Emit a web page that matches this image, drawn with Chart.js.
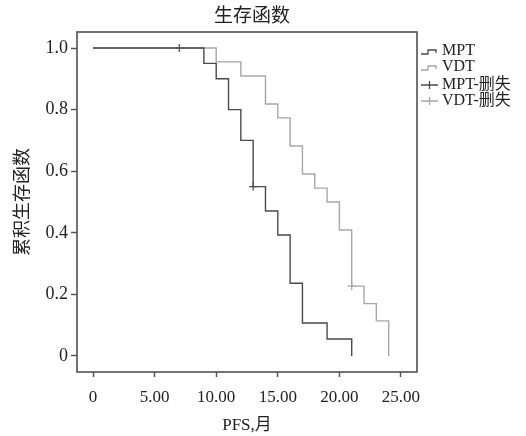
<!DOCTYPE html>
<html>
<head>
<meta charset="utf-8">
<script src="https://cdn.jsdelivr.net/npm/chart.js@4.4.0/dist/chart.umd.min.js"></script>
<style>
html, body { margin: 0; padding: 0; background: #fff; }
</style>
</head>
<body>
<canvas id="km" width="526" height="436"></canvas>
<script>
// 生存函数 data
var mptTime  = [0, 9, 10, 11, 12, 13, 14, 15, 16, 17, 19, 21];
var mptSurv  = [1, 0.95, 0.90, 0.80, 0.70, 0.55, 0.471, 0.393, 0.236, 0.107, 0.055, 0];
var vdtTime  = [0, 10, 12, 14, 15, 16, 17, 18, 19, 20, 21, 22, 23, 24];
var vdtSurv  = [1, 0.955, 0.909, 0.818, 0.773, 0.682, 0.591, 0.545, 0.50, 0.409, 0.227, 0.17, 0.114, 0];
var mptCensorTime = [7, 13];
var mptCensorSurv = [1, 0.55];
var vdtCensorTime = [21];
var vdtCensorSurv = [0.227];
var xTicks = [0, 5, 10, 15, 20, 25];
var yTicks = [0, 0.2, 0.4, 0.6, 0.8, 1.0];
var legendLabels = ['MPT', 'VDT', 'MPT-删失', 'VDT-删失'];

var darkC = '#4a4a4a';
var lightC = '#a6a6a6';
var fam = '"Liberation Serif", "Noto Sans CJK SC", serif';

function pts(t, s) {
    var out = [];
    for (var i = 0; i < t.length; i++) out.push({x: t[i], y: s[i]});
    return out;
}

var framePlugin = {
    id: 'frame',
    beforeDatasetsDraw: function (chart) {
        var a = chart.chartArea, ctx = chart.ctx;
        ctx.save();
        ctx.strokeStyle = '#505050';
        ctx.lineWidth = 1.6;
        ctx.strokeRect(a.left, a.top, a.right - a.left, a.bottom - a.top);
        ctx.restore();
    },
    afterDraw: function (chart) {
        var a = chart.chartArea, ctx = chart.ctx;
        ctx.save();
        // title
        ctx.fillStyle = '#222';
        ctx.font = '19px ' + fam;
        ctx.textAlign = 'center';
        ctx.textBaseline = 'middle';
        ctx.fillText('生存函数', 252, 17);
        // legend
        var colors = [darkC, lightC, darkC, lightC];
        var ys = [51, 67, 85, 101];
        ctx.font = '16px ' + fam;
        ctx.textAlign = 'left';
        for (var i = 0; i < legendLabels.length; i++) {
            var y = ys[i], x0 = a.right + 4;
            ctx.strokeStyle = colors[i];
            ctx.lineWidth = 1.3;
            ctx.beginPath();
            if (i < 2) {
                ctx.moveTo(x0, y + 3);
                ctx.lineTo(x0 + 7, y + 3);
                ctx.lineTo(x0 + 7, y - 1);
                ctx.lineTo(x0 + 15, y - 1);
                ctx.lineTo(x0 + 15, y + 2);
            } else {
                ctx.moveTo(x0, y);
                ctx.lineTo(x0 + 17, y);
                ctx.moveTo(x0 + 8.5, y - 4);
                ctx.lineTo(x0 + 8.5, y + 4);
            }
            ctx.stroke();
            ctx.fillStyle = '#222';
            ctx.fillText(legendLabels[i], x0 + 21, y);
        }
        ctx.restore();
    }
};

var ctx = document.getElementById('km').getContext('2d');
var chart = new Chart(ctx, {
    type: 'line',
    data: {
        datasets: [{
            label: 'MPT',
            data: pts(mptTime, mptSurv),
            borderColor: darkC,
            borderWidth: 1.4,
            stepped: 'before',
            pointRadius: 0,
            fill: false
        }, {
            label: 'VDT',
            data: pts(vdtTime, vdtSurv),
            borderColor: lightC,
            borderWidth: 1.4,
            stepped: 'before',
            pointRadius: 0,
            fill: false
        }, {
            type: 'scatter',
            label: 'MPT-删失',
            data: pts(mptCensorTime, mptCensorSurv),
            pointStyle: 'cross',
            pointRadius: 4,
            borderColor: darkC,
            borderWidth: 1.2,
            showLine: false
        }, {
            type: 'scatter',
            label: 'VDT-删失',
            data: pts(vdtCensorTime, vdtCensorSurv),
            pointStyle: 'cross',
            pointRadius: 4,
            borderColor: lightC,
            borderWidth: 1.2,
            showLine: false
        }]
    },
    options: {
        responsive: false,
        animation: false,
        layout: {padding: {top: 32, right: 109, left: 0, bottom: 0}},
        plugins: {
            legend: {display: false},
            tooltip: {enabled: false},
            title: {display: false}
        },
        scales: {
            x: {
                type: 'linear',
                min: -1.3,
                max: 26.3,
                afterBuildTicks: function (axis) {
                    axis.ticks = xTicks.map(function (v) { return {value: v}; });
                },
                afterFit: function (axis) { axis.height = 64; },
                ticks: {
                    color: '#222',
                    padding: 10,
                    font: {family: fam, size: 17},
                    callback: function (v) { return v === 0 ? '0' : v.toFixed(2); }
                },
                grid: {drawOnChartArea: false, drawTicks: true, tickLength: 5, tickColor: '#505050', tickWidth: 1.4},
                border: {display: false},
                title: {
                    display: true,
                    text: 'PFS,月',
                    color: '#222',
                    font: {family: fam, size: 17},
                    padding: {top: 0, bottom: 0}
                }
            },
            y: {
                type: 'linear',
                min: -0.052,
                max: 1.052,
                afterBuildTicks: function (axis) {
                    axis.ticks = yTicks.map(function (v) { return {value: v}; });
                },
                afterFit: function (axis) { axis.width = 77; },
                ticks: {
                    color: '#222',
                    padding: 3,
                    font: {family: fam, size: 18},
                    callback: function (v) { return v === 0 ? '0' : v.toFixed(1); }
                },
                grid: {drawOnChartArea: false, drawTicks: true, tickLength: 6, tickColor: '#505050', tickWidth: 1.4},
                border: {display: false},
                title: {
                    display: true,
                    text: '累积生存函数',
                    color: '#222',
                    font: {family: fam, size: 18},
                    padding: {top: 12, bottom: 0}
                }
            }
        }
    },
    plugins: [framePlugin]
});
</script>
</body>
</html>
